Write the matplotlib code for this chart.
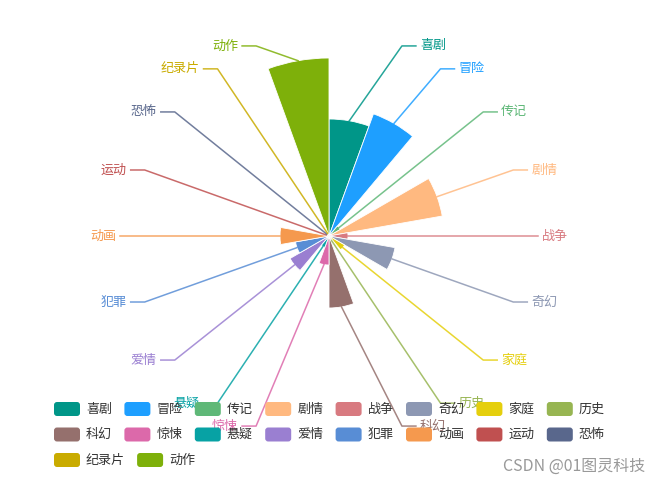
import matplotlib.pyplot as plt
import numpy as np
from matplotlib.patches import Wedge, FancyBboxPatch

plt.rcParams['font.family'] = ['Noto Sans CJK SC', 'DejaVu Sans']

# movie genres, clockwise from 12 o'clock
genres = ["喜剧", "冒险", "传记", "剧情", "战争", "奇幻", "家庭", "历史", "科幻",
          "惊悚", "悬疑", "爱情", "犯罪", "动画", "运动", "恐怖", "纪录片", "动作"]
counts = [117, 130, 13, 115, 19, 67, 18, 6, 72,
          29, 12, 45, 34, 49, 3, 3, 3, 178]
colors = ["#009688", "#1E9FFF", "#5FB878", "#ffb980", "#d87a80", "#8d98b3",
          "#e5cf0d", "#97b552", "#95706d", "#dc69aa", "#07a2a4", "#9a7fd1",
          "#588dd5", "#f5994e", "#c05050", "#59678c", "#c9ab00", "#7eb00a"]

W, H = 662, 486
cx, cy = 329, H - 236
r_max = 178
fs = 9.4

fig = plt.figure(figsize=(W / 100, H / 100), dpi=100)
ax = fig.add_axes([0, 0, 1, 1])
ax.set_xlim(0, W)
ax.set_ylim(0, H)
ax.axis("off")

n = len(genres)
step = 360 / n
radii = np.array(counts) / max(counts) * r_max

#rose sectors + leader lines
for i, (name, r, c) in enumerate(zip(genres, radii, colors)):
    t2 = 90 - step * i
    t1 = t2 - step
    ax.add_patch(Wedge((cx, cy), r, t1, t2, facecolor=c,
                       edgecolor="white", linewidth=0.6, zorder=1))

    mid = np.radians((t1 + t2) / 2)
    sx = cx + r * np.cos(mid)
    sy = cy + r * np.sin(mid)
    dy = 193 * np.sin(mid)
    side = 1 if np.cos(mid) >= 0 else -1
    ex = cx + side * np.sqrt(209 ** 2 - dy ** 2)
    bx = ex - side * 14
    by = cy + dy
    ax.plot([sx, bx, ex], [sy, by, by], color=c, lw=1.1, alpha=0.85, zorder=2)
    ax.text(ex + side * 4, by, name, color=c, fontsize=fs,
            ha="left" if side > 0 else "right", va="center", zorder=3)

#legend, 8 items per row
x0, y0 = 54, H - 409
x = x0
for k, (name, c) in enumerate(zip(genres, colors)):
    row = k // 8
    if k % 8 == 0:
        x = x0
    yc = y0 - row * 25.5
    ax.add_patch(FancyBboxPatch((x, yc - 7), 26, 14,
                                boxstyle="round,pad=0,rounding_size=3",
                                facecolor=c, edgecolor="none", zorder=5))
    ax.text(x + 32, yc, name, color="#333333", fontsize=fs,
            ha="left", va="center", zorder=6)
    x += 45 + 12.7 * len(name)

ax.text(645, H - 466, "CSDN @01图灵科技", color="#999999", fontsize=11.5,
        ha="right", va="center", zorder=6)

plt.savefig("out.png", dpi=100)
